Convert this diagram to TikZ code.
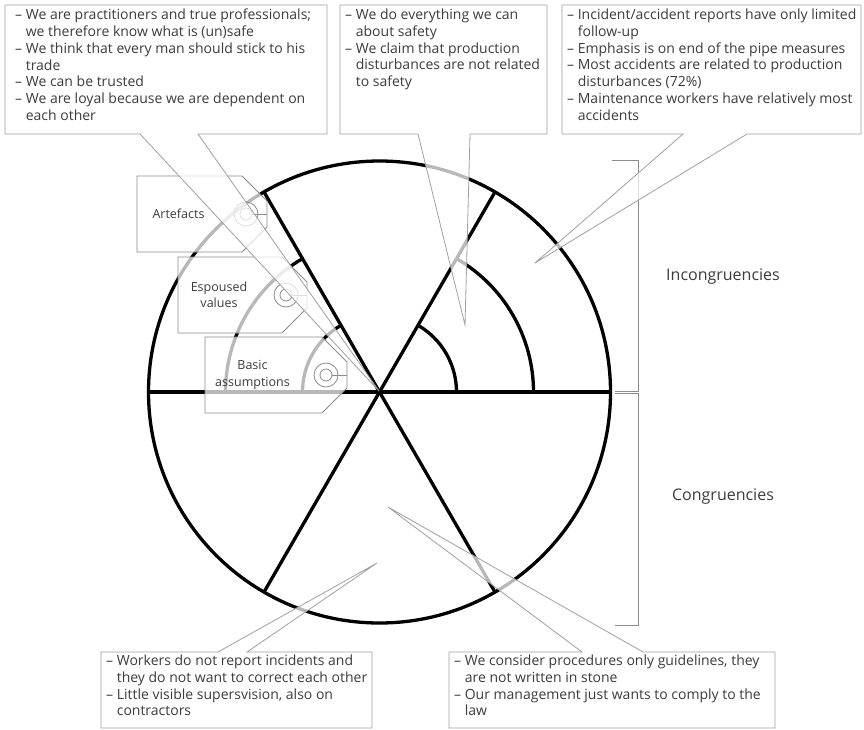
\documentclass[tikz,border=0pt]{standalone}
\usepackage{fontspec}
\setmainfont{Open Sans}
\usepackage{tikz}
\usetikzlibrary{calc}

\definecolor{ink}{HTML}{3C3C3C}
\definecolor{rim}{HTML}{A0A0A0}
\definecolor{tagrim}{HTML}{8C8C8C}

\begin{document}
\begin{tikzpicture}[x=1pt, y=-1pt,
	heavy/.style={line width=3.3pt, black},
	callout/.style={draw=rim, line width=0.8pt, fill=white, fill opacity=0.72},
	tagline/.style={draw=tagrim, line width=0.8pt},
	box/.style={inner sep=0pt, outer sep=0pt, anchor=north west},
	note/.style={inner sep=0pt, anchor=north west, align=left, text=ink, font=\fontsize{14}{16.7}\selectfont},
	taglabel/.style={inner sep=0pt, align=center, text=ink, font=\fontsize{12.5}{16.5}\selectfont},
	side/.style={text=ink, font=\fontsize{16}{19}\selectfont},
	bracket/.style={draw=tagrim, line width=0.9pt}]
	\useasboundingbox (0,0) rectangle (864,729);
	\coordinate (c) at (379.5,392);
	% circle, diameters and layer arcs
	\draw[heavy] (c) circle[radius=231];
	\foreach \a in {0,60,120}
		\draw[heavy] (c) +(\a:231) -- +(\a+180:231);
	\foreach \r in {77,154} {
		\draw[heavy] (c) ++(\r,0) arc[start angle=0, end angle=-60, radius=\r];
		\draw[heavy] (c) ++(-\r,0) arc[start angle=180, end angle=240, radius=\r];
	}
	% layer tags
	\foreach \nm/\x/\y/\w/\txt in {art/137/176/130/Artefacts, esp/178/257/129/{Espoused\\values}, bas/205/337/142/{Basic\\assumptions}} {
		\draw[tagline, fill=white, fill opacity=0.72] (\x,\y) -- ++(\w-25,0) -- ++(25,25) -- ++(0,26) -- ++(-25,25) -- (\x,\y+76) -- cycle;
		\draw[tagline] (\x+\w-21,\y+38) circle[radius=12] circle[radius=6];
		\draw[tagline] (\x+\w-15,\y+38) -- (\x+\w,\y+38);
		\node[taglabel] (\nm) at ({\x+(\w-47)/2},\y+38) {\txt};
	}
	% brackets
	\draw[bracket] (612,160) -- (638,160) -- (638,391) -- (615,391);
	\draw[bracket] (615,393) -- (638,393) -- (638,625) -- (615,625);
	\node[side] (inc) at (723,277) {Incongruencies};
	\node[side] (con) at (723,497) {Congruencies};
	% callouts
	\coordinate (p1) at (379,391);
	\coordinate (p2) at (465,325);
	\coordinate (p3) at (535,263);
	\coordinate (p4) at (377,563);
	\coordinate (p5) at (388,507);
	\node[box, minimum width=322pt, minimum height=129pt] (c1) at (5,5) {};
	\node[box, minimum width=207pt, minimum height=129pt] (c2) at (340,5) {};
	\node[box, minimum width=299pt, minimum height=129pt] (c3) at (562,5) {};
	\node[box, minimum width=271pt, minimum height=76pt] (c4) at (101,652) {};
	\node[box, minimum width=326pt, minimum height=76pt] (c5) at (449,652) {};
	\draw[callout] (c1.north west) -- (c1.north east) -- (c1.south east) -- ([xshift=193pt]c1.south west) -- (p1) -- ([xshift=135pt]c1.south west) -- (c1.south west) -- cycle;
	\draw[callout] (c2.north west) -- (c2.north east) -- (c2.south east) -- ([xshift=130pt]c2.south west) -- (p2) -- ([xshift=78pt]c2.south west) -- (c2.south west) -- cycle;
	\draw[callout] (c3.north west) -- (c3.north east) -- (c3.south east) -- ([xshift=185pt]c3.south west) -- (p3) -- ([xshift=121pt]c3.south west) -- (c3.south west) -- cycle;
	\draw[callout] (c4.south west) -- (c4.north west) -- ([xshift=117pt]c4.north west) -- (p4) -- ([xshift=146pt]c4.north west) -- (c4.north east) -- (c4.south east) -- cycle;
	\draw[callout] (c5.south west) -- (c5.north west) -- ([xshift=133pt]c5.north west) -- (p5) -- ([xshift=194pt]c5.north west) -- (c5.north east) -- (c5.south east) -- cycle;
	\node[note] (n1) at (15,9) {– We are practitioners and true professionals;\\
		\phantom{– }we therefore know what is (un)safe\\
		– We think that every man should stick to his\\
		\phantom{– }trade\\
		– We can be trusted\\
		– We are loyal because we are dependent on\\
		\phantom{– }each other};
	\node[note] (n2) at (345,9) {– We do everything we can\\
		\phantom{– }about safety\\
		– We claim that production\\
		\phantom{– }disturbances are not related\\
		\phantom{– }to safety};
	\node[note] (n3) at (567,9) {– Incident/accident reports have only limited\\
		\phantom{– }follow-up\\
		– Emphasis is on end of the pipe measures\\
		– Most accidents are related to production\\
		\phantom{– }disturbances (72\%)\\
		– Maintenance workers have relatively most\\
		\phantom{– }accidents};
	\node[note] (n4) at (106,655) {– Workers do not report incidents and\\
		\phantom{– }they do not want to correct each other\\
		– Little visible supersvision, also on\\
		\phantom{– }contractors};
	\node[note] (n5) at (454,655) {– We consider procedures only guidelines, they\\
		\phantom{– }are not written in stone\\
		– Our management just wants to comply to the\\
		\phantom{– }law};
\end{tikzpicture}
\end{document}
